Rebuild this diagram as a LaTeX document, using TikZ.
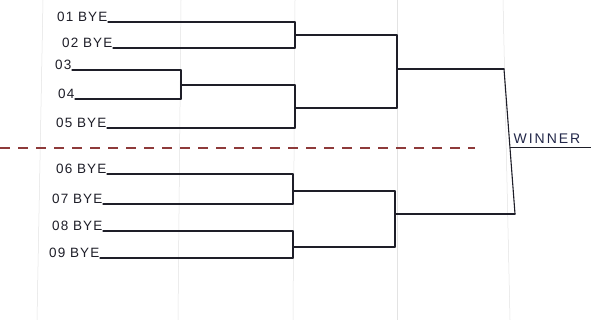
\documentclass[tikz,border=0pt]{standalone}
\usepackage{fontspec}
\setmainfont{Liberation Sans}
\newfontfamily\handfont[LetterSpace=8]{Liberation Sans}
\newfontfamily\winfont[LetterSpace=14]{Liberation Sans}
\definecolor{dashred}{HTML}{8E3A3A}
\definecolor{ink}{HTML}{1E1E28}
\definecolor{winblue}{HTML}{23284A}
\begin{document}
\begin{tikzpicture}[x=1pt,y=-1pt,
  br/.style={line width=1.1pt, draw=ink, line cap=round},
  lab/.style={anchor=base east, inner sep=0.5pt, text=ink, font=\handfont\fontsize{13.5}{13.5}\selectfont},
  ruling/.style={draw=gray!22, line width=0.5pt},
  sep/.style={draw=dashred, line width=1.2pt, dash pattern=on 10pt off 8pt}]
\useasboundingbox (0,0) rectangle (591,320);
\fill[white] (0,0) rectangle (591,320);
% notebook ruling
\draw[ruling] (43,0) -- (37,320);
\draw[ruling] (181,0) -- (178,320);
\draw[ruling] (295,0) -- (293,320);
\draw[ruling] (397,0) -- (397,320);
\draw[ruling] (503,0) -- (510,320);
% separator
\coordinate (s1) at (0,148);
\coordinate (s2) at (475,148);
\draw[sep] (s1) -- (s2);
% labels
\node[lab] (l1) at (108,22) {01 BYE};
\node[lab] (l2) at (113,48) {02 BYE};
\node[lab] (l3) at (72,70) {03};
\node[lab] (l4) at (75,99) {04};
\node[lab] (l5) at (107,128) {05 BYE};
\node[lab] (l6) at (107,174) {06 BYE};
\node[lab] (l7) at (103,204) {07 BYE};
\node[lab] (l8) at (103,231) {08 BYE};
\node[lab] (l9) at (100,258) {09 BYE};
% bracket coordinates
\coordinate (a1) at (295,22);
\coordinate (a2) at (295,48);
\coordinate (m12) at (295,35);
\coordinate (c3) at (181,70);
\coordinate (c4) at (181,99);
\coordinate (m34) at (181,85);
\coordinate (a34) at (295,85);
\coordinate (a5) at (295,128);
\coordinate (m345) at (295,108);
\coordinate (b1) at (397,35);
\coordinate (b2) at (397,108);
\coordinate (bm) at (397,69);
\coordinate (w1) at (504,69);
\coordinate (a6) at (293,174);
\coordinate (a7) at (293,204);
\coordinate (m67) at (293,191);
\coordinate (a8) at (293,231);
\coordinate (a9) at (293,258);
\coordinate (m89) at (293,247);
\coordinate (b3) at (395,191);
\coordinate (b4) at (395,247);
\coordinate (bm2) at (395,214);
\coordinate (w2) at (515,214);
% first round lines
\draw[br] (l1.base east) -- (a1);
\draw[br] (l2.base east) -- (a2);
\draw[br] (l3.base east) -- (c3);
\draw[br] (l4.base east) -- (c4);
\draw[br] (l5.base east) -- (a5);
\draw[br] (l6.base east) -- (a6);
\draw[br] (l7.base east) -- (a7);
\draw[br] (l8.base east) -- (a8);
\draw[br] (l9.base east) -- (a9);
% verticals and joins
\draw[br] (a1) -- (a2);
\draw[br] (m12) -- (b1);
\draw[br] (c3) -- (c4);
\draw[br] (m34) -- (a34);
\draw[br] (a34) -- (a5);
\draw[br] (m345) -- (b2);
\draw[br] (b1) -- (b2);
\draw[br] (bm) -- (w1);
\draw[br] (a6) -- (a7);
\draw[br] (m67) -- (b3);
\draw[br] (a8) -- (a9);
\draw[br] (m89) -- (b4);
\draw[br] (b3) -- (b4);
\draw[br] (bm2) -- (w2);
\draw[br] (w1) -- (w2);
% winner
\node[anchor=base west, inner sep=0.5pt, text=winblue, font=\winfont\fontsize{14}{14}\selectfont] (win) at (513,144) {WINNER};
\coordinate (u1) at (510,147.5);
\coordinate (u2) at (591,147.5);
\draw[line width=0.9pt, draw=ink] (u1) -- (u2);
\end{tikzpicture}
\end{document}
